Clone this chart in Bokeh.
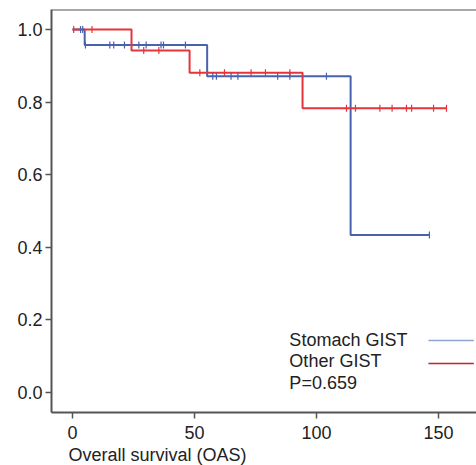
import numpy as np
from bokeh.plotting import figure
from bokeh.models import Range1d, Label, Span, FixedTicker, Title, PrintfTickFormatter
from bokeh.embed import file_html
from bokeh.resources import INLINE

# Kaplan-Meier step data
stomach_t = [0, 5.0, 55.2, 114.0, 146.3]
stomach_s = [1.0, 0.957, 0.871, 0.434, 0.434]
other_t = [0, 24.2, 48.0, 94.3, 153.3]
other_s = [1.0, 0.942, 0.881, 0.783, 0.783]

# censoring times
stomach_cens = [3.3, 4.2, 5.3, 15.3, 16.9, 21.3, 27.2, 30.2, 36.3, 37.3, 46.3,
                57.5, 59.0, 65.0, 67.8, 84.1, 89.1, 104.1, 146.3]
other_cens = [0.5, 8.0, 29.2, 35.4, 52.2, 62.3, 73.2, 79.1, 89.1,
              112.3, 116.0, 126.0, 131.0, 136.9, 139.0, 148.0, 153.3]

x_ticks = [0, 50, 100, 150]
y_ticks = [0.0, 0.2, 0.4, 0.6, 0.8, 1.0]

legend_names = ["Stomach GIST", "Other GIST"]
p_text = "P=0.659"
x_title = "Overall survival (OAS)"

BLUE = "#4762ae"
RED = "#e5343b"
FONT = "Liberation Sans"
FS = "18px"


def surv_at(ts, ss, t):
    v = ss[0]
    for ti, si in zip(ts, ss):
        if t >= ti:
            v = si
    return v


p = figure(width=476, height=465, output_backend="svg", toolbar_location=None,
           x_range=Range1d(-8.6, 165.6), y_range=Range1d(-0.055, 1.055),
           min_border_left=51, min_border_right=0, min_border_top=9, min_border_bottom=0)
p.outline_line_color = None
p.xgrid.visible = False
p.ygrid.visible = False

for ax in (p.xaxis[0], p.yaxis[0]):
    ax.axis_line_color = "#555555"
    ax.axis_line_width = 2
    ax.major_tick_line_color = "#555555"
    ax.major_tick_line_width = 1.5
    ax.major_tick_out = 6
    ax.major_tick_in = 0
    ax.minor_tick_line_color = None
    ax.major_label_text_font = FONT
    ax.major_label_text_font_size = FS
    ax.major_label_text_color = "#222222"

p.xaxis.ticker = FixedTicker(ticks=x_ticks)
p.yaxis.ticker = FixedTicker(ticks=y_ticks)
p.xaxis.major_label_standoff = 7
p.yaxis.major_label_standoff = 3
p.yaxis.formatter = PrintfTickFormatter(format="%.1f")

# x axis title, left aligned below the axis
t = Title(text=x_title, align="left", offset=17, text_font=FONT, text_font_size=FS,
          text_font_style="normal", text_color="#222222", standoff=2)
p.add_layout(t, "below")

# top border
p.add_layout(Span(location=1.055, dimension="width", line_color="#555555", line_width=2))

# curves
p.step(stomach_t, stomach_s, mode="after", line_color=BLUE, line_width=2)
p.step(other_t, other_s, mode="after", line_color=RED, line_width=2)

sy = [surv_at(stomach_t, stomach_s, t) for t in stomach_cens]
oy = [surv_at(other_t, other_s, t) for t in other_cens]
p.scatter(stomach_cens, sy, marker="dash", angle=np.pi / 2, size=7,
          line_color=BLUE, line_width=1.2)
p.scatter(other_cens, oy, marker="dash", angle=np.pi / 2, size=7,
          line_color=RED, line_width=1.2)

# legend
p.add_layout(Label(x=88.9, y=0.146, text=legend_names[0], text_font=FONT,
                   text_font_size=FS, text_color="#222222", text_baseline="middle"))
p.add_layout(Label(x=88.9, y=0.086, text=legend_names[1], text_font=FONT,
                   text_font_size=FS, text_color="#222222", text_baseline="middle"))
p.add_layout(Label(x=88.9, y=0.026, text=p_text, text_font=FONT,
                   text_font_size=FS, text_color="#222222", text_baseline="middle"))
p.segment(x0=[145.9], y0=[0.143], x1=[164.5], y1=[0.143], line_color="#8fa3cf", line_width=1.5)
p.segment(x0=[145.9], y0=[0.080], x1=[164.5], y1=[0.080], line_color="#c4232b", line_width=1.5)

open("out.html", "w").write(file_html(p, INLINE))
